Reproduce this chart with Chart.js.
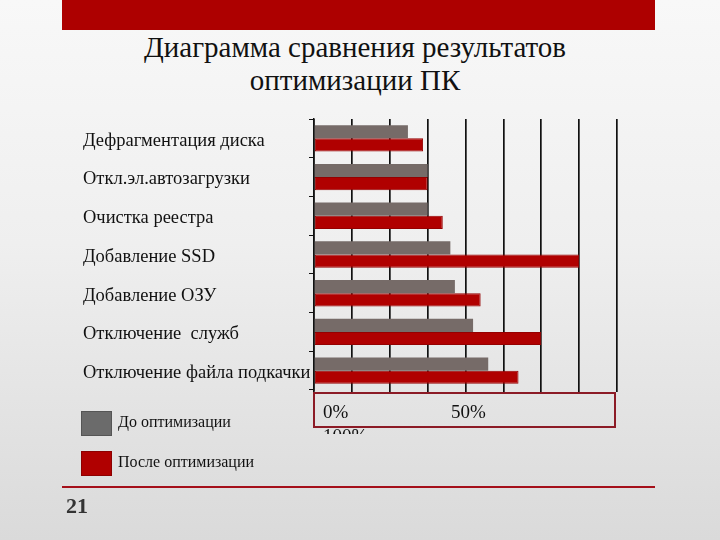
<!DOCTYPE html>
<html>
<head>
<meta charset="utf-8">
<script src="https://cdn.jsdelivr.net/npm/chart.js@4"></script>
<style>
  html, body { margin: 0; padding: 0; }
  body {
    width: 720px; height: 540px; position: relative; overflow: hidden;
    background: linear-gradient(180deg, #f8f8f8 0%, #efefef 45%, #dadada 100%);
    font-family: "Liberation Serif", "DejaVu Serif", serif;
  }
  #topbar { position: absolute; left: 62px; top: 0; width: 593px; height: 30px; background: #ad0000; }
  #title {
    position: absolute; left: 0; top: 31px; width: 710px; text-align: center;
    font-size: 29px; line-height: 33px; color: #111;
  }
  #chart { position: absolute; left: 0; top: 0; }
  #axisClip { position: absolute; left: 313px; top: 392px; width: 305px; height: 42px; overflow: hidden; }
  #axisBox {
    position: absolute; left: 0; top: 0; width: 299px; height: 32px;
    border: 2px solid #8c1b26; font-size: 19px; color: #111;
  }
  #axisBox span { position: absolute; top: 7px; }
  #legend { position: absolute; left: 81px; top: 411px; }
  .lg { position: relative; height: 40px; }
  .lg i { position: absolute; left: 0; top: 0; width: 29px; height: 23px; border: 1px solid rgba(0,0,0,0.2); }
  .lg span { position: absolute; left: 37px; top: 2px; font-size: 16px; color: #111; white-space: nowrap; }
  #bottomline { position: absolute; left: 62px; top: 486px; width: 593px; height: 2px; background: #a5101a; }
  #pageno { position: absolute; left: 66px; top: 493px; font-size: 22px; font-weight: bold; color: #333; }
</style>
</head>
<body>
<div id="topbar"></div>
<div id="title">Диаграмма сравнения результатов<br>оптимизации ПК</div>
<canvas id="chart" width="720" height="540"></canvas>
<div id="axisClip"><div id="axisBox"></div></div>
<div id="legend"></div>
<div id="bottomline"></div>
<div id="pageno">21</div>
<script>
const categories = [
  "Дефрагментация диска",
  "Откл.эл.автозагрузки",
  "Очистка реестра",
  "Добавление SSD",
  "Добавление ОЗУ",
  "Отключение  служб",
  "Отключение файла подкачки"
];
const seriesNames = ["До оптимизации", "После оптимизации"];
const beforeValues = [31, 37.5, 37.5, 45, 46.5, 52.5, 57.5];
const afterValues = [36, 37.5, 42.5, 87.5, 55, 75, 67.5];
const seriesColors = ["#766b68", "#b00000"];
const axisLabels = ["0%", "50%", "100%"];

/* axis text box under the plot */
const axisBox = document.getElementById("axisBox");
const axisPos = [[8, 7], [136, 7], [8, 31]];
axisLabels.forEach((t, i) => {
  const s = document.createElement("span");
  s.textContent = t;
  s.style.left = axisPos[i][0] + "px";
  s.style.top = axisPos[i][1] + "px";
  axisBox.appendChild(s);
});

/* legend */
const legend = document.getElementById("legend");
seriesNames.forEach((name, i) => {
  const row = document.createElement("div");
  row.className = "lg";
  row.innerHTML = '<i style="background:' + (i === 0 ? "#6b6b6b" : seriesColors[1]) + '"></i><span></span>';
  row.querySelector("span").textContent = name;
  legend.appendChild(row);
});

new Chart(document.getElementById("chart"), {
  type: "bar",
  data: {
    labels: categories,
    datasets: [
      {
        label: seriesNames[0],
        data: beforeValues,
        backgroundColor: seriesColors[0],
        borderWidth: 0,
        categoryPercentage: 0.68,
        barPercentage: 1.0,
      },
      {
        label: seriesNames[1],
        data: afterValues,
        backgroundColor: seriesColors[1],
        borderColor: "#950000",
        borderWidth: 1,
        borderSkipped: false,
        categoryPercentage: 0.68,
        barPercentage: 1.0,
      },
    ],
  },
  options: {
    indexAxis: "y",
    responsive: false,
    animation: false,
    layout: { padding: { left: 83, top: 119, right: 103, bottom: 148 } },
    plugins: { legend: { display: false }, tooltip: { enabled: false } },
    scales: {
      x: {
        min: 0,
        max: 100,
        grid: { color: "#111", lineWidth: 1.7, drawTicks: true, tickLength: 2 },
        border: { display: false },
        ticks: { display: false, stepSize: 12.5 },
      },
      y: {
        afterFit: (scale) => { scale.width = 231; },
        grid: { drawOnChartArea: false, color: "#111", lineWidth: 1, tickLength: 5 },
        border: { display: true, color: "#111", width: 1.5 },
        ticks: {
          crossAlign: "far",
          color: "#111",
          labelOffset: 2.5,
          font: { family: "Liberation Serif", size: 18.5 },
        },
      },
    },
  },
});
</script>
</body>
</html>
